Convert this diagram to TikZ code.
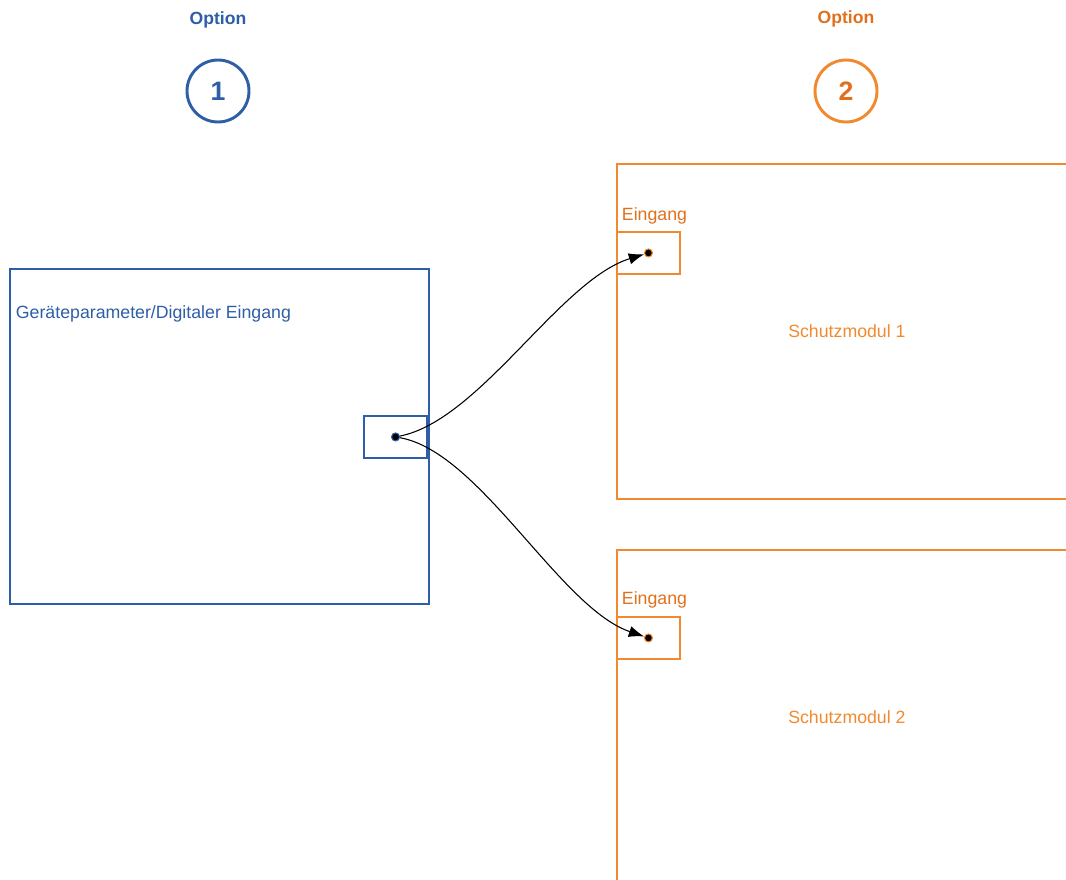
\documentclass[tikz,border=0pt]{standalone}
\usepackage{fontspec}
\setmainfont{Liberation Sans}
\usetikzlibrary{calc,arrows.meta}
\definecolor{optblue}{HTML}{2E5EA6}
\definecolor{optorange}{HTML}{F18A2E}
\definecolor{optorangedark}{HTML}{E0701E}

\begin{document}
\begin{tikzpicture}[x=0.75pt,y=-0.75pt,
  optlabel/.style={font=\fontsize{13.2}{15}\selectfont\bfseries,inner sep=0pt},
  numcircle/.style={circle,line width=2.2pt,minimum size=46.5pt,inner sep=0pt,font=\fontsize{20}{24}\selectfont\bfseries},
  bluebox/.style={draw=optblue,line width=1.4pt,inner sep=0pt},
  orangebox/.style={draw=optorange,line width=1.4pt,inner sep=0pt,text=optorange,font=\fontsize{13.3}{15}\selectfont},
  boxtext/.style={font=\fontsize{13.3}{15}\selectfont,inner sep=2pt},
  dot/.style={circle,fill=black,line width=0.8pt,minimum size=6pt,inner sep=0pt},
  arrow/.style={-{Latex[length=11.5pt,width=8.5pt]},line width=0.8pt}]
  \useasboundingbox (0,0) rectangle (1066,879);
  \clip (0,0) rectangle (1066,879);

  % option markers
  \node[optlabel,text=optblue] (opt1) at (218,20) {Option};
  \node[numcircle,draw=optblue,text=optblue] (num1) at (218,91) {1};
  \node[optlabel,text=optorangedark] (opt2) at (846,19) {Option};
  \node[numcircle,draw=optorange,text=optorangedark] (num2) at (846,91) {2};

  % device parameter block
  \node[bluebox,anchor=north west,minimum width=419*0.75pt,minimum height=335*0.75pt] (geraet) at (9,268) {};
  \node[boxtext,text=optblue,anchor=west] (geraettext) at ($ (geraet.north west) + (4,46) $) {Geräteparameter/Digitaler Eingang};
  \node[bluebox,anchor=north east,minimum width=63*0.75pt,minimum height=42*0.75pt] (ausgang) at (428,415) {};
  \node[dot,draw=optblue] (src) at (ausgang.center) {};

  % protection modules
  \node[orangebox,anchor=north west,minimum width=460*0.75pt,minimum height=335*0.75pt] (modul1) at (616,163) {Schutzmodul 1};
  \node[orangebox,anchor=north west,minimum width=63*0.75pt,minimum height=42*0.75pt] (eingang1) at ($ (modul1.north west) + (0,68) $) {};
  \node[boxtext,text=optorangedark,anchor=west] (einlabel1) at ($ (eingang1.north west) + (3,-15) $) {Eingang};
  \node[dot,draw=optorange] (dst1) at (eingang1.center) {};

  \node[orangebox,anchor=north west,minimum width=460*0.75pt,minimum height=335*0.75pt] (modul2) at (616,549) {Schutzmodul 2};
  \node[orangebox,anchor=north west,minimum width=63*0.75pt,minimum height=42*0.75pt] (eingang2) at ($ (modul2.north west) + (0,67) $) {};
  \node[boxtext,text=optorangedark,anchor=west] (einlabel2) at ($ (eingang2.north west) + (3,-16) $) {Eingang};
  \node[dot,draw=optorange] (dst2) at (eingang2.center) {};

  \draw[arrow] (src) .. controls (480,420) and (560,280) .. (dst1);
  \draw[arrow] (src) .. controls (480,452) and (560,608) .. (dst2);
\end{tikzpicture}
\end{document}
